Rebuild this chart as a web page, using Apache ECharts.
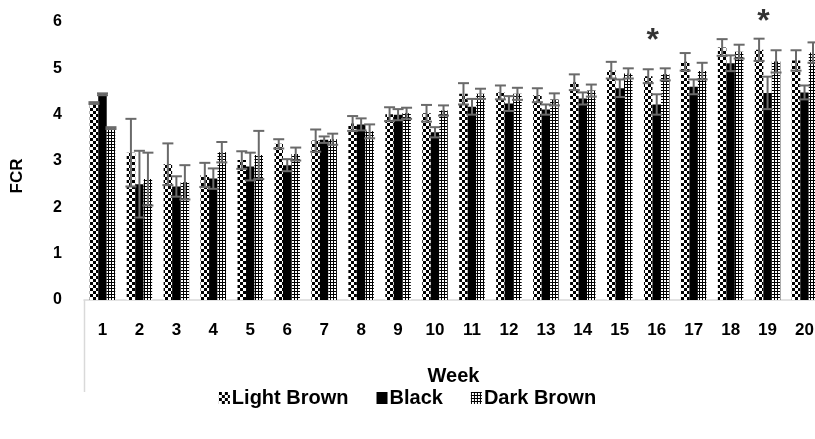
<!DOCTYPE html>
<html>
<head>
<meta charset="utf-8">
<script src="https://cdn.jsdelivr.net/npm/echarts@6/dist/echarts.min.js"></script>
<style>
  html, body { margin: 0; padding: 0; background: #ffffff; }
  #chart { width: 815px; height: 439px; }
</style>
</head>
<body>
<div id="chart"></div>
<script>
// Weekly feed conversion ratio (mean ± error) for three plumage groups
const weeks = ['1','2','3','4','5','6','7','8','9','10','11','12','13','14','15','16','17','18','19','20'];

const lightBrown    = [4.25, 3.18, 2.93, 2.70, 3.02, 3.37, 3.44, 3.81, 4.01, 4.03, 4.45, 4.48, 4.42, 4.70, 4.96, 4.83, 5.14, 5.45, 5.40, 5.17];
const lightBrownErr = [0.02, 0.73, 0.45, 0.26, 0.19, 0.10, 0.24, 0.16, 0.15, 0.18, 0.23, 0.15, 0.15, 0.17, 0.18, 0.15, 0.19, 0.18, 0.24, 0.22];

const black    = [4.44, 2.50, 2.45, 2.62, 2.88, 2.91, 3.46, 3.79, 4.00, 3.62, 4.17, 4.24, 4.11, 4.35, 4.57, 4.22, 4.60, 5.11, 4.47, 4.48];
const blackErr = [0.02, 0.72, 0.22, 0.22, 0.30, 0.13, 0.07, 0.13, 0.12, 0.11, 0.17, 0.16, 0.11, 0.13, 0.19, 0.22, 0.16, 0.17, 0.35, 0.15];

const darkBrown    = [3.71, 2.61, 2.54, 3.19, 3.13, 3.15, 3.47, 3.64, 4.03, 4.09, 4.45, 4.45, 4.33, 4.52, 4.89, 4.87, 4.94, 5.36, 5.15, 5.34];
const darkBrownErr = [0.02, 0.57, 0.37, 0.22, 0.52, 0.14, 0.12, 0.15, 0.12, 0.11, 0.11, 0.13, 0.13, 0.13, 0.11, 0.13, 0.18, 0.15, 0.24, 0.22];

// Significance markers: week and height (in FCR units) of the asterisk
const starWeeks  = ['16', '19'];
const starLevels = [5.62, 6.05];

const yTicks = { min: 0, max: 6, interval: 1 };

// ---- fill patterns ----
function makeTile(size, draw) {
  const c = document.createElement('canvas');
  c.width = size; c.height = size;
  const ctx = c.getContext('2d');
  draw(ctx);
  return c;
}
const checkerTile = makeTile(6, ctx => {
  ctx.fillStyle = '#ffffff'; ctx.fillRect(0, 0, 6, 6);
  ctx.fillStyle = '#000000'; ctx.fillRect(0, 0, 3, 3); ctx.fillRect(3, 3, 3, 3);
});
const dotTile = makeTile(3, ctx => {
  ctx.fillStyle = '#000000'; ctx.fillRect(0, 0, 3, 3);
  ctx.fillStyle = '#ffffff'; ctx.fillRect(1, 1, 2, 2);
});
const fills = [
  { image: checkerTile, repeat: 'repeat' },
  '#000000',
  { image: dotTile, repeat: 'repeat' }
];

const BAR_FRAC = 0.23;   // each bar's share of a category band
const FONT = '"Liberation Sans", Arial, sans-serif';
const ERR_COLOR = '#6a6a6a';

function barSeries(name, values, idx) {
  return {
    name: name,
    type: 'bar',
    data: values,
    barWidth: (BAR_FRAC * 100) + '%',
    barGap: '0%',
    itemStyle: { color: fills[idx] },
    z: 2
  };
}

function errorSeries(name, values, errs, idx) {
  return {
    name: name,
    type: 'custom',
    data: values.map((v, i) => [i, v, errs[i]]),
    z: 3,
    silent: true,
    renderItem: function (params, api) {
      const i = api.value(0), m = api.value(1), e = api.value(2);
      const band = api.size([1, 0])[0];
      const off = (idx - 1) * band * BAR_FRAC;
      const top = api.coord([i, m + e]);
      const bot = api.coord([i, m - e]);
      const x = top[0] + off;
      const hw = 5.5;
      const style = { stroke: ERR_COLOR, lineWidth: 2 };
      return {
        type: 'group',
        children: [
          { type: 'line', shape: { x1: x, y1: top[1], x2: x, y2: bot[1] }, style: style },
          { type: 'line', shape: { x1: x - hw, y1: top[1], x2: x + hw, y2: top[1] }, style: style },
          { type: 'line', shape: { x1: x - hw, y1: bot[1], x2: x + hw, y2: bot[1] }, style: style }
        ]
      };
    }
  };
}

const chart = echarts.init(document.getElementById('chart'), null, { renderer: 'canvas' });

const option = {
  animation: false,
  backgroundColor: '#ffffff',
  textStyle: { fontFamily: FONT },
  grid: { left: 84, width: 739, top: 22, bottom: 139, containLabel: false, outerBoundsMode: 'none' },
  legend: {
    data: ['Light Brown', 'Black', 'Dark Brown'],
    bottom: 26,
    left: 'center',
    icon: 'rect',
    itemWidth: 11,
    itemHeight: 12,
    itemGap: 28,
    textStyle: { fontFamily: FONT, fontWeight: 'bold', fontSize: 20, color: '#000000', padding: [0, 0, 0, -3] }
  },
  xAxis: {
    type: 'category',
    data: weeks,
    name: 'Week',
    nameLocation: 'middle',
    nameGap: 66,
    nameTextStyle: { fontFamily: FONT, fontWeight: 'bold', fontSize: 20, color: '#000000' },
    axisLine: { show: true, lineStyle: { color: '#d9d9d9', width: 1.5 } },
    axisTick: { show: false },
    axisLabel: { fontFamily: FONT, fontWeight: 'bold', fontSize: 17, color: '#000000', margin: 22, interval: 0 },
    splitLine: { show: false }
  },
  yAxis: {
    type: 'value',
    min: yTicks.min,
    max: yTicks.max,
    interval: yTicks.interval,
    name: 'FCR',
    nameLocation: 'middle',
    nameGap: 58,
    nameRotate: 90,
    nameTextStyle: { fontFamily: FONT, fontWeight: 'bold', fontSize: 17, color: '#000000', padding: [0, 30, 0, 0] },
    axisLine: { show: false },
    axisTick: { show: false },
    axisLabel: { fontFamily: FONT, fontWeight: 'bold', fontSize: 16, color: '#000000', margin: 22 },
    splitLine: { show: false }
  },
  series: [
    barSeries('Light Brown', lightBrown, 0),
    barSeries('Black', black, 1),
    barSeries('Dark Brown', darkBrown, 2),
    errorSeries('Light Brown', lightBrown, lightBrownErr, 0),
    errorSeries('Black', black, blackErr, 1),
    errorSeries('Dark Brown', darkBrown, darkBrownErr, 2),
    {
      name: 'significance',
      type: 'scatter',
      data: starWeeks.map((w, k) => [w, starLevels[k]]),
      symbolSize: 0,
      clip: false,
      silent: true,
      z: 5,
      label: {
        show: true,
        position: 'inside',
        formatter: '*',
        fontFamily: FONT,
        fontWeight: 'bold',
        fontSize: 32,
        color: '#000000',
        offset: [-4, 2]
      }
    }
  ]
};

chart.setOption(option);

// Left boundary rule of the category axis, dropping below the tick labels
const origin = chart.convertToPixel({ gridIndex: 0 }, [0, 0]);
const band = chart.getModel().getComponent('xAxis', 0).axis.getBandWidth();
const leftX = Math.round(origin[0] - band / 2) + 0.5;
chart.setOption({
  graphic: [{
    type: 'line',
    silent: true,
    shape: { x1: leftX, y1: origin[1], x2: leftX, y2: origin[1] + 92 },
    style: { stroke: '#d9d9d9', lineWidth: 1.5 }
  }]
});
</script>
</body>
</html>
